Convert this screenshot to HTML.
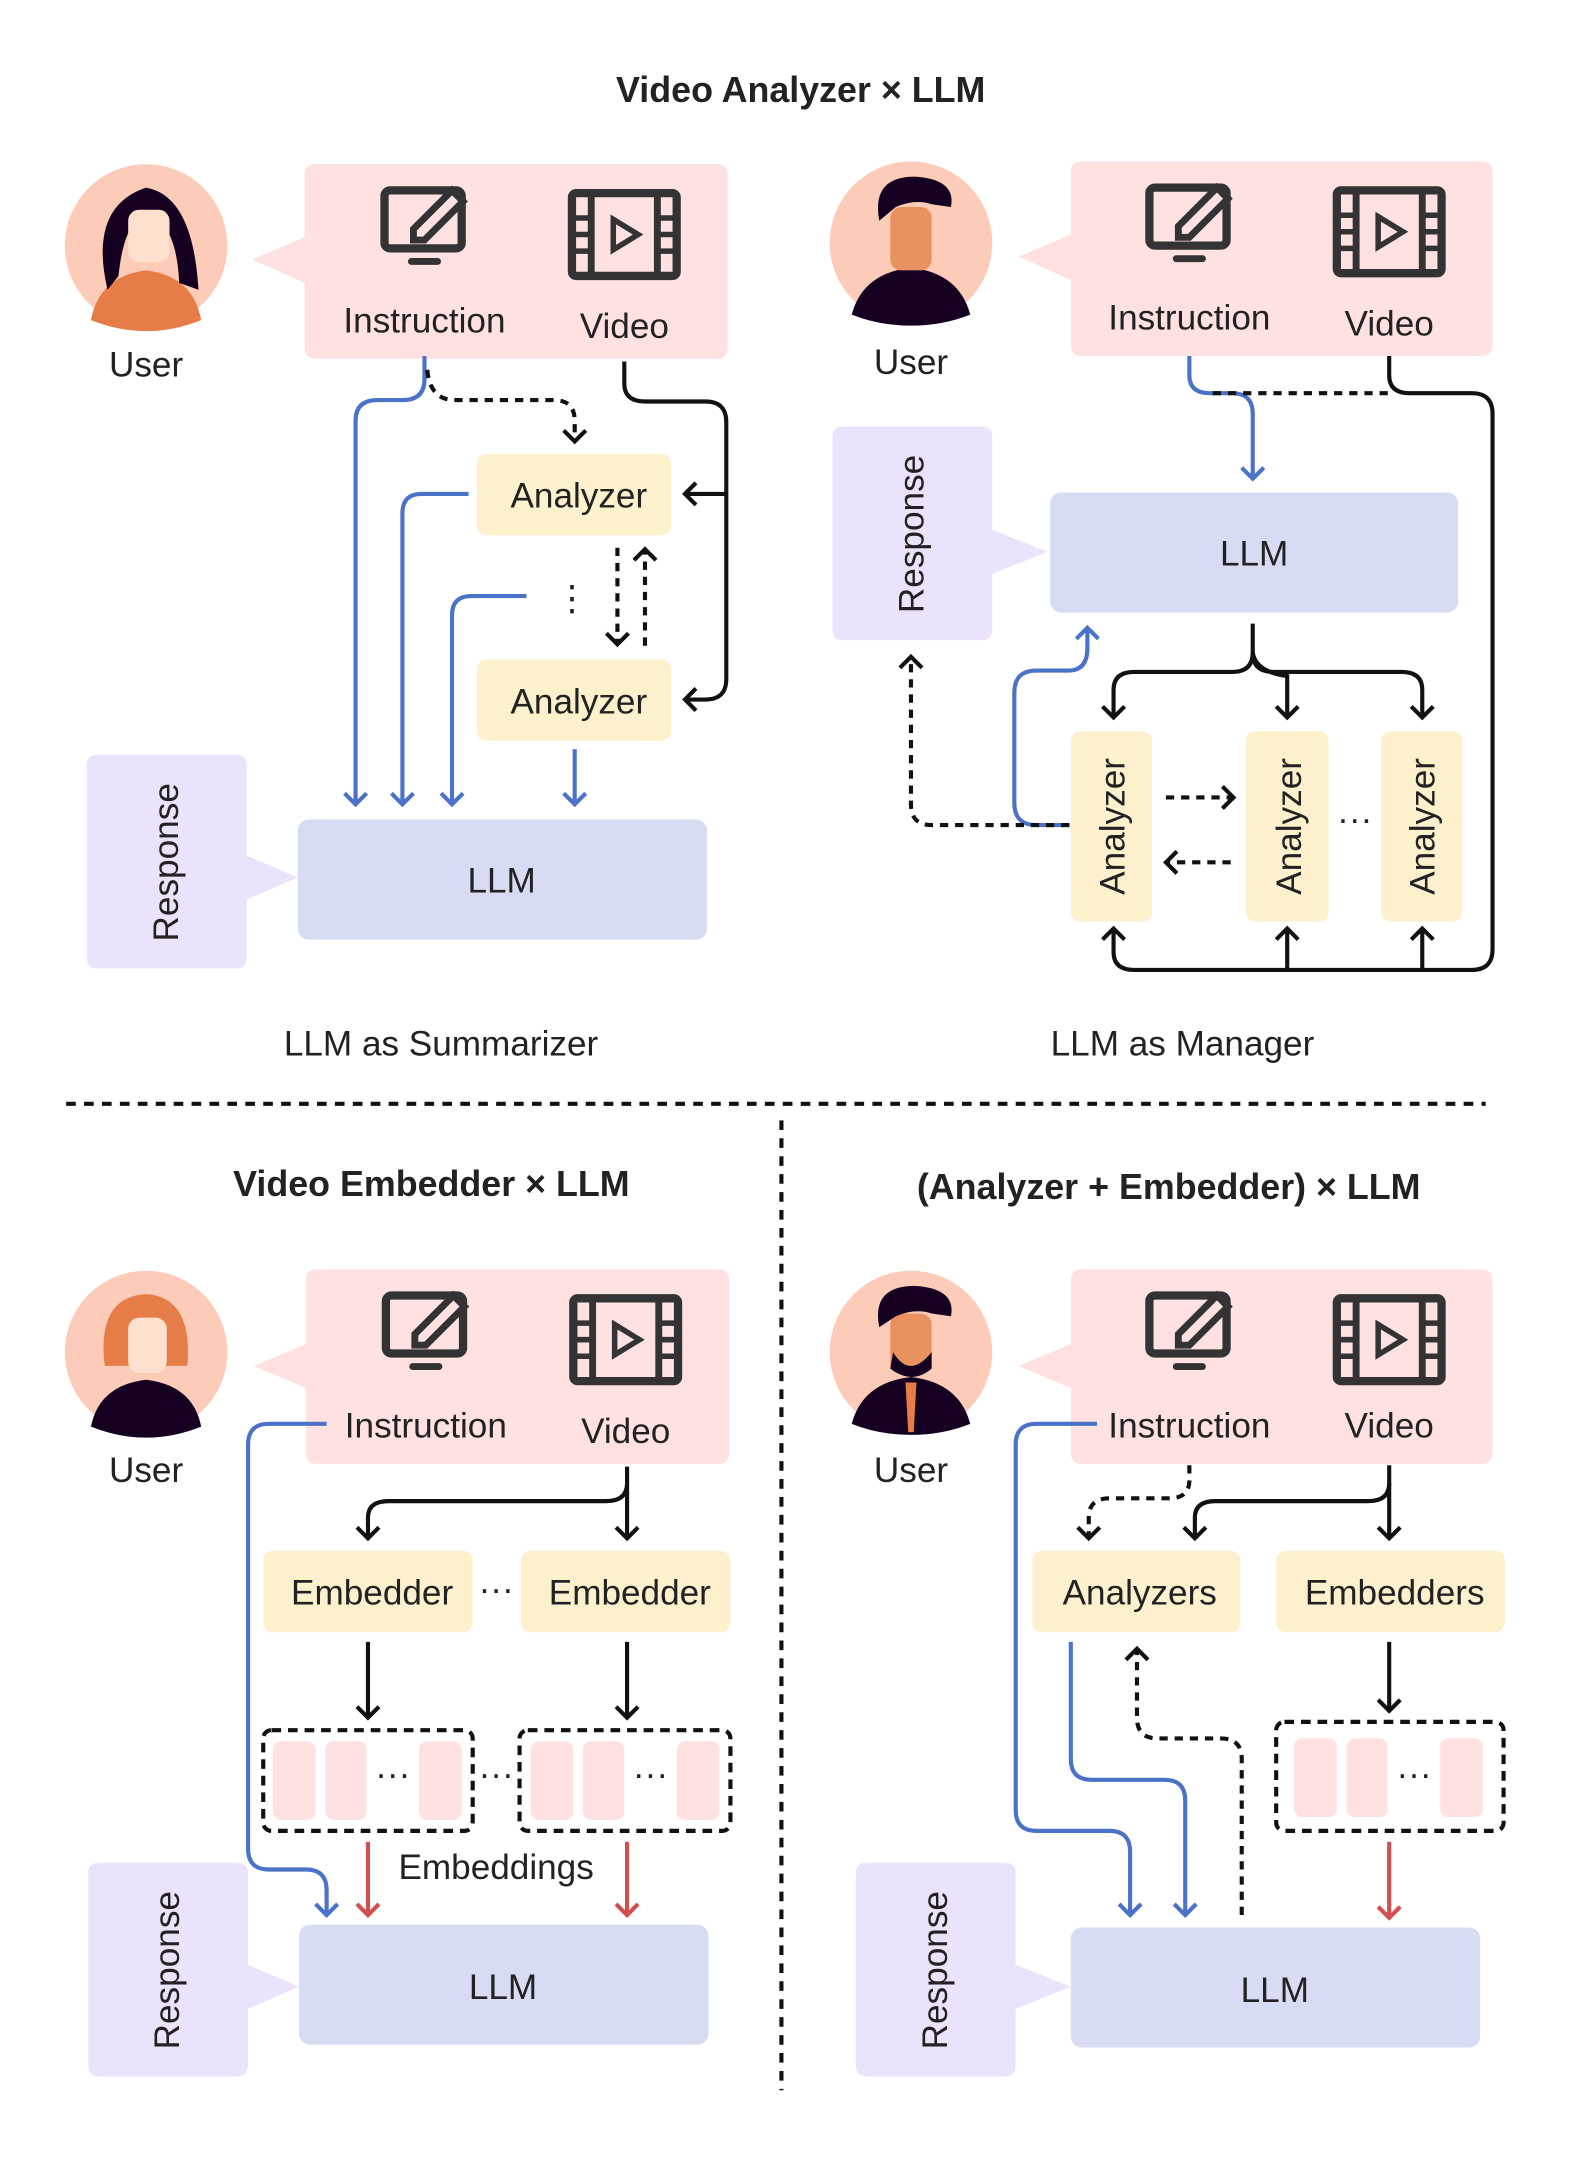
<!DOCTYPE html>
<html><head><meta charset="utf-8"><style>html,body{margin:0;padding:0;background:#fff}svg{display:block}
text{font-family:"Liberation Sans","DejaVu Sans",sans-serif;fill:#222}</style></head><body>
<svg width="1578" height="2162" viewBox="0 0 1145 1567" preserveAspectRatio="none" xmlns="http://www.w3.org/2000/svg">
<defs>
<marker id="ak" markerUnits="userSpaceOnUse" markerWidth="20" markerHeight="20" refX="10" refY="10" orient="auto"><path d="M2,2 L10,10 L2,18" fill="none" stroke="#111" stroke-width="3"/></marker>
<marker id="ab" markerUnits="userSpaceOnUse" markerWidth="20" markerHeight="20" refX="10" refY="10" orient="auto"><path d="M2,2 L10,10 L2,18" fill="none" stroke="#4a72c8" stroke-width="3"/></marker>
<marker id="ar" markerUnits="userSpaceOnUse" markerWidth="20" markerHeight="20" refX="10" refY="10" orient="auto"><path d="M2,2 L10,10 L2,18" fill="none" stroke="#d05050" stroke-width="3"/></marker>
<g id="instr"><rect x="-29" y="-27" width="56" height="42" rx="4" fill="none" stroke="#333" stroke-width="6"/><rect x="-12" y="22" width="24" height="5" rx="2.5" fill="#333"/><path d="M-8,1 L20,-27 L28,-19 L0,9 L-8,9 Z" fill="#ffe1e2" stroke="#333" stroke-width="5"/></g>
<g id="vid"><rect x="-38" y="-30" width="76" height="60" rx="3" fill="none" stroke="#333" stroke-width="6"/><line x1="-24" y1="-30" x2="-24" y2="30" stroke="#333" stroke-width="5"/><line x1="24" y1="-30" x2="24" y2="30" stroke="#333" stroke-width="5"/><path d="M-38,-12H-24M-38,0H-24M-38,12H-24M24,-12H38M24,0H38M24,12H38" stroke="#333" stroke-width="4"/><path d="M-8,-11 L10,0 L-8,11Z" fill="none" stroke="#333" stroke-width="4"/></g>
</defs>
<g font-size="25.5">
<text x="581" y="74" text-anchor="middle" font-weight="bold" font-size="26">Video Analyzer × LLM</text>
<text x="313" y="867" text-anchor="middle" font-weight="bold" font-size="26">Video Embedder × LLM</text>
<text x="848" y="869" text-anchor="middle" font-weight="bold" font-size="26">(Analyzer + Embedder) × LLM</text>

<line x1="48" y1="800" x2="1078" y2="800" stroke="#111" stroke-width="3" stroke-dasharray="7,6"/>
<line x1="567" y1="812" x2="567" y2="1515" stroke="#111" stroke-width="3" stroke-dasharray="7,6"/>

<!-- ===== TL ===== -->
<circle cx="106" cy="178" r="59" fill="#fdccb8"/>
<path d="M66,232 Q72,200 106,196 Q140,200 146,232 Q126,240 106,240 Q86,240 66,232Z" fill="#e67c47"/>
<path d="M78,210 Q64,150 106,136 Q140,142 144,210 L130,205 Q128,160 106,156 Q90,160 86,200Z" fill="#160021"/>
<rect x="93" y="152" width="30" height="38" rx="8" fill="#fde0cd"/>
<text x="106" y="273" text-anchor="middle">User</text>
<path d="M229,119 H520 Q528,119 528,127 V252 Q528,260 520,260 H229 Q221,260 221,252 V205 L183,188 L221,172 V127 Q221,119 229,119Z" fill="#ffe1e2"/>
<use href="#instr" x="308" y="165"/><use href="#vid" x="453" y="170"/>
<text x="308" y="241" text-anchor="middle">Instruction</text><text x="453" y="245" text-anchor="middle">Video</text>
<rect x="346" y="329" width="141" height="59" rx="7" fill="#fdf1cd"/><text x="420" y="368" text-anchor="middle">Analyzer</text>
<rect x="346" y="478" width="141" height="59" rx="7" fill="#fdf1cd"/><text x="420" y="517" text-anchor="middle">Analyzer</text>
<text x="415" y="442" text-anchor="middle">⋮</text>
<path d="M63,555 Q63,547 71,547 H171 Q179,547 179,555 V620 L216,636 L179,652 V694 Q179,702 171,702 H71 Q63,702 63,694Z" fill="#ebe3fc"/>
<text transform="translate(129,625) rotate(-90)" text-anchor="middle">Response</text>
<rect x="216" y="594" width="297" height="87" rx="8" fill="#d7dcf4"/><text x="364" y="647" text-anchor="middle">LLM</text>
<text x="320" y="765" text-anchor="middle">LLM as Summarizer</text>
<g fill="none" stroke-width="3">
<path d="M308,258 V275 Q308,290 292,290 H274 Q258,290 258,305 V583" stroke="#4a72c8" marker-end="url(#ab)"/>
<path d="M340,358 H306 Q292,358 292,372 V583" stroke="#4a72c8" marker-end="url(#ab)"/>
<path d="M382,432 H342 Q328,432 328,446 V583" stroke="#4a72c8" marker-end="url(#ab)"/>
<path d="M417,543 V583" stroke="#4a72c8" marker-end="url(#ab)"/>
<path d="M310,268 Q312,290 330,290 H402 Q417,290 417,305 V320" stroke="#111" stroke-dasharray="6,5" marker-end="url(#ak)"/>
<path d="M453,262 V278 Q453,291 468,291 H512 Q527,291 527,306 V492 Q527,507 512,507 H497" stroke="#111" marker-end="url(#ak)"/>
<path d="M527,358 H497" stroke="#111" marker-end="url(#ak)"/>
<path d="M448,397 V467" stroke="#111" stroke-dasharray="6,5" marker-end="url(#ak)"/>
<path d="M468,468 V398" stroke="#111" stroke-dasharray="6,5" marker-end="url(#ak)"/>
</g>

<!-- ===== TR ===== -->
<circle cx="661" cy="176" r="59" fill="#fdccb8"/>
<path d="M618,228 Q626,198 661,194 Q696,198 704,228 Q684,236 661,236 Q638,236 618,228Z" fill="#160021"/>
<rect x="646" y="150" width="30" height="46" rx="8" fill="#e8935f"/>
<path d="M638,160 Q632,128 664,128 Q694,130 690,150 L676,148 Q664,144 650,150 Z" fill="#160021"/>
<text x="661" y="271" text-anchor="middle">User</text>
<path d="M785,117 H1075 Q1083,117 1083,125 V250 Q1083,258 1075,258 H785 Q777,258 777,250 V203 L739,186 L777,170 V125 Q777,117 785,117Z" fill="#ffe1e2"/>
<use href="#instr" x="863" y="163"/><use href="#vid" x="1008" y="168"/>
<text x="863" y="239" text-anchor="middle">Instruction</text><text x="1008" y="243" text-anchor="middle">Video</text>
<path d="M604,317 Q604,309 612,309 H712 Q720,309 720,317 V384 L760,400 L720,416 V456 Q720,464 712,464 H612 Q604,464 604,456Z" fill="#ebe3fc"/>
<text transform="translate(670,387) rotate(-90)" text-anchor="middle">Response</text>
<rect x="762" y="357" width="296" height="87" rx="8" fill="#d7dcf4"/><text x="910" y="410" text-anchor="middle">LLM</text>
<rect x="777" y="530" width="59" height="138" rx="7" fill="#fdf1cd"/><text transform="translate(816,599) rotate(-90)" text-anchor="middle">Analyzer</text>
<rect x="904" y="530" width="60" height="138" rx="7" fill="#fdf1cd"/><text transform="translate(944,599) rotate(-90)" text-anchor="middle">Analyzer</text>
<rect x="1002" y="530" width="59" height="138" rx="7" fill="#fdf1cd"/><text transform="translate(1041,599) rotate(-90)" text-anchor="middle">Analyzer</text>
<text x="983" y="602" text-anchor="middle">···</text>
<text x="858" y="765" text-anchor="middle">LLM as Manager</text>
<g fill="none" stroke-width="3">
<path d="M863,258 V272 Q863,285 878,285 H894 Q909,285 909,300 V347" stroke="#4a72c8" marker-end="url(#ab)"/>
<path d="M880,285 H1010" stroke="#111" stroke-dasharray="6,5"/>
<path d="M1008,258 V272 Q1008,285 1023,285 H1068 Q1083,285 1083,300 V688 Q1083,703 1068,703 H823 Q808,703 808,690 V673" stroke="#111" marker-end="url(#ak)"/>
<path d="M934,703 V673" stroke="#111" marker-end="url(#ak)"/>
<path d="M1032,703 V673" stroke="#111" marker-end="url(#ak)"/>
<path d="M909,452 V473 Q909,487 894,487 H823 Q808,487 808,500 V520" stroke="#111" marker-end="url(#ak)"/>
<path d="M909,473 Q909,487 924,487 H1017 Q1032,487 1032,500 V520" stroke="#111" marker-end="url(#ak)"/>
<path d="M909,473 Q911,487 934,490 V520" stroke="#111" marker-end="url(#ak)"/>
<path d="M776,598 H752 Q736,598 736,582 V502 Q736,486 752,486 H775 Q789,486 789,470 V455" stroke="#4a72c8" marker-end="url(#ab)"/>
<path d="M776,598 H676 Q661,598 661,583 V476" stroke="#111" stroke-dasharray="6,5" marker-end="url(#ak)"/>
<path d="M846,578 H895" stroke="#111" stroke-dasharray="6,5" marker-end="url(#ak)"/>
<path d="M893,625 H846" stroke="#111" stroke-dasharray="6,5" marker-end="url(#ak)"/>
</g>

<!-- ===== BL ===== -->
<circle cx="106" cy="980" r="59" fill="#fdccb8"/>
<path d="M66,1034 Q72,1004 106,1000 Q140,1004 146,1034 Q126,1042 106,1042 Q86,1042 66,1034Z" fill="#160021"/>
<path d="M76,990 Q70,940 106,938 Q140,940 136,990Z" fill="#e67c47"/>
<rect x="93" y="955" width="28" height="40" rx="8" fill="#fde0cd"/>
<text x="106" y="1074" text-anchor="middle">User</text>
<path d="M230,920 H521 Q529,920 529,928 V1053 Q529,1061 521,1061 H230 Q222,1061 222,1053 V1006 L184,990 L222,974 V928 Q222,920 230,920Z" fill="#ffe1e2"/>
<use href="#instr" x="309" y="966"/><use href="#vid" x="454" y="971"/>
<text x="309" y="1042" text-anchor="middle">Instruction</text><text x="454" y="1046" text-anchor="middle">Video</text>
<rect x="191" y="1124" width="152" height="59" rx="7" fill="#fdf1cd"/><text x="270" y="1163" text-anchor="middle">Embedder</text>
<rect x="378" y="1124" width="152" height="59" rx="7" fill="#fdf1cd"/><text x="457" y="1163" text-anchor="middle">Embedder</text>
<text x="360" y="1160" text-anchor="middle">···</text>
<rect x="191" y="1254" width="152" height="73" rx="6" fill="none" stroke="#111" stroke-width="3" stroke-dasharray="7,5"/>
<rect x="377" y="1254" width="153" height="73" rx="6" fill="none" stroke="#111" stroke-width="3" stroke-dasharray="7,5"/>
<g fill="#ffe1e2"><rect x="198" y="1262" width="31" height="57" rx="6"/><rect x="236" y="1262" width="30" height="57" rx="6"/><rect x="304" y="1262" width="31" height="57" rx="6"/>
<rect x="385" y="1262" width="31" height="57" rx="6"/><rect x="423" y="1262" width="30" height="57" rx="6"/><rect x="491" y="1262" width="31" height="57" rx="6"/></g>
<text x="285" y="1294" text-anchor="middle">···</text><text x="472" y="1294" text-anchor="middle">···</text><text x="360" y="1294" text-anchor="middle">···</text>
<text x="360" y="1362" text-anchor="middle">Embeddings</text>
<path d="M64,1358 Q64,1350 72,1350 H172 Q180,1350 180,1358 V1424 L217,1440 L180,1456 V1497 Q180,1505 172,1505 H72 Q64,1505 64,1497Z" fill="#ebe3fc"/>
<text transform="translate(130,1428) rotate(-90)" text-anchor="middle">Response</text>
<rect x="217" y="1395" width="297" height="87" rx="8" fill="#d7dcf4"/><text x="365" y="1449" text-anchor="middle">LLM</text>
<g fill="none" stroke-width="3">
<path d="M455,1063 V1075 Q455,1088 440,1088 H282 Q267,1088 267,1100 V1115" stroke="#111" marker-end="url(#ak)"/>
<path d="M455,1075 V1115" stroke="#111" marker-end="url(#ak)"/>
<path d="M267,1190 V1245" stroke="#111" marker-end="url(#ak)"/>
<path d="M455,1190 V1245" stroke="#111" marker-end="url(#ak)"/>
<path d="M267,1335 V1388" stroke="#d05050" marker-end="url(#ar)"/>
<path d="M455,1335 V1388" stroke="#d05050" marker-end="url(#ar)"/>
<path d="M237,1032 H195 Q180,1032 180,1047 V1340 Q180,1355 195,1355 H222 Q237,1355 237,1370 V1388" stroke="#4a72c8" marker-end="url(#ab)"/>
</g>

<!-- ===== BR ===== -->
<circle cx="661" cy="980" r="59" fill="#fdccb8"/>
<path d="M618,1032 Q626,1002 661,998 Q696,1002 704,1032 Q684,1040 661,1040 Q638,1040 618,1032Z" fill="#160021"/>
<path d="M657,1002 L665,1002 L663,1038 L659,1038Z" fill="#e67c47"/>
<rect x="646" y="952" width="30" height="44" rx="8" fill="#e8935f"/>
<path d="M648,980 Q660,1000 676,980 L676,992 Q662,1004 646,992Z" fill="#160021"/>
<path d="M638,962 Q632,932 664,932 Q694,934 690,954 L676,952 Q664,948 650,954 Z" fill="#160021"/>
<text x="661" y="1074" text-anchor="middle">User</text>
<path d="M785,920 H1075 Q1083,920 1083,928 V1053 Q1083,1061 1075,1061 H785 Q777,1061 777,1053 V1006 L739,990 L777,974 V928 Q777,920 785,920Z" fill="#ffe1e2"/>
<use href="#instr" x="863" y="966"/><use href="#vid" x="1008" y="971"/>
<text x="863" y="1042" text-anchor="middle">Instruction</text><text x="1008" y="1042" text-anchor="middle">Video</text>
<rect x="749" y="1124" width="151" height="59" rx="7" fill="#fdf1cd"/><text x="827" y="1163" text-anchor="middle">Analyzers</text>
<rect x="926" y="1124" width="166" height="59" rx="7" fill="#fdf1cd"/><text x="1012" y="1163" text-anchor="middle">Embedders</text>
<rect x="926" y="1248" width="165" height="79" rx="6" fill="none" stroke="#111" stroke-width="3" stroke-dasharray="7,5"/>
<g fill="#ffe1e2"><rect x="939" y="1260" width="31" height="57" rx="6"/><rect x="977" y="1260" width="30" height="57" rx="6"/><rect x="1045" y="1260" width="31" height="57" rx="6"/></g>
<text x="1026" y="1294" text-anchor="middle">···</text>
<path d="M621,1358 Q621,1350 629,1350 H729 Q737,1350 737,1358 V1424 L777,1440 L737,1456 V1497 Q737,1505 729,1505 H629 Q621,1505 621,1497Z" fill="#ebe3fc"/>
<text transform="translate(687,1428) rotate(-90)" text-anchor="middle">Response</text>
<rect x="777" y="1397" width="297" height="87" rx="8" fill="#d7dcf4"/><text x="925" y="1451" text-anchor="middle">LLM</text>
<g fill="none" stroke-width="3">
<path d="M1008,1062 V1075 Q1008,1088 993,1088 H882 Q867,1088 867,1100 V1115" stroke="#111" marker-end="url(#ak)"/>
<path d="M1008,1075 V1115" stroke="#111" marker-end="url(#ak)"/>
<path d="M863,1062 V1073 Q863,1086 848,1086 H805 Q790,1086 790,1100 V1115" stroke="#111" stroke-dasharray="6,5" marker-end="url(#ak)"/>
<path d="M796,1032 H752 Q737,1032 737,1047 V1312 Q737,1327 752,1327 H805 Q820,1327 820,1342 V1388" stroke="#4a72c8" marker-end="url(#ab)"/>
<path d="M777,1190 V1275 Q777,1290 792,1290 H845 Q860,1290 860,1305 V1388" stroke="#4a72c8" marker-end="url(#ab)"/>
<path d="M901,1388 V1275 Q901,1260 886,1260 H840 Q825,1260 825,1245 V1195" stroke="#111" stroke-dasharray="6,5" marker-end="url(#ak)"/>
<path d="M1008,1190 V1240" stroke="#111" marker-end="url(#ak)"/>
<path d="M1008,1335 V1390" stroke="#d05050" marker-end="url(#ar)"/>
</g>
</g>
</svg>
</body></html>
